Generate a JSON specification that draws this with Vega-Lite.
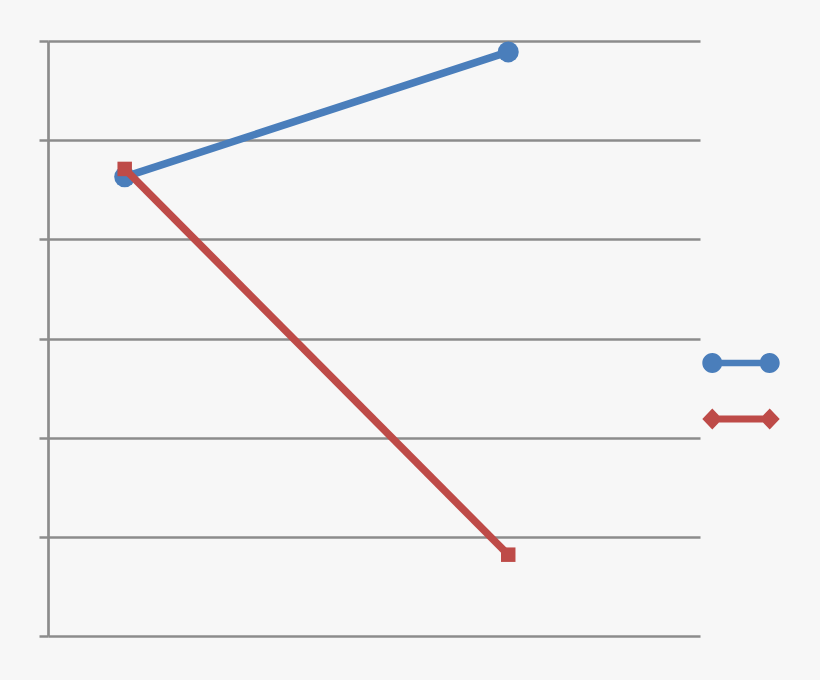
{
  "$schema": "https://vega.github.io/schema/vega-lite/v6.json",
  "autosize": "none",
  "width": 652,
  "height": 595,
  "padding": {"left": 48, "top": 41, "right": 120, "bottom": 44},
  "background": "#f7f7f7",
  "config": {"view": {"stroke": null}},
  "data": {
    "values": [
      {"series": "Series 1", "x": 1, "y": 4.63},
      {"series": "Series 1", "x": 6, "y": 5.89},
      {"series": "Series 2", "x": 1, "y": 4.71},
      {"series": "Series 2", "x": 6, "y": 0.82}
    ]
  },
  "encoding": {
    "x": {"field": "x", "type": "quantitative", "scale": {"domain": [0, 8.5]}, "axis": null},
    "y": {
      "field": "y",
      "type": "quantitative",
      "scale": {"domain": [0, 6], "nice": false},
      "axis": {
        "values": [0, 1, 2, 3, 4, 5, 6],
        "title": null,
        "labels": false,
        "domainColor": "#8c8c8c",
        "domainWidth": 2.7,
        "tickColor": "#8c8c8c",
        "tickWidth": 2.5,
        "tickSize": 9,
        "gridColor": "#8c8c8c",
        "gridWidth": 2.5,
        "gridOpacity": 1
      }
    },
    "color": {
      "field": "series",
      "type": "nominal",
      "scale": {"domain": ["Series 1", "Series 2"], "range": ["#4a7ebb", "#be4b48"]},
      "legend": {
        "orient": "none",
        "legendX": 683,
        "legendY": 312,
        "title": null,
        "labelExpr": "''",
        "labelFontSize": 1,
        "symbolSize": 400,
        "symbolStrokeWidth": 0,
        "rowPadding": 35,
        "encode": {
          "symbols": {
            "update": {
              "fill": {"scale": "color", "field": "value"},
              "fillOpacity": {"value": 1},
              "strokeWidth": {"value": 0},
              "shape": {"signal": "datum.value === 'Series 1' ? 'M-3.87,0 A1,1 0 1,1 -1.87,0 A1,1 0 1,1 -3.87,0 Z M1.87,0 A1,1 0 1,1 3.87,0 A1,1 0 1,1 1.87,0 Z M-2.87,-0.32 L2.87,-0.32 L2.87,0.32 L-2.87,0.32 Z' : 'M-3.87,0 L-2.87,-1.05 L-1.87,0 L-2.87,1.05 Z M1.87,0 L2.87,-1.05 L3.87,0 L2.87,1.05 Z M-2.87,-0.35 L2.87,-0.35 L2.87,0.35 L-2.87,0.35 Z'"}
            }
          }
        }
      }
    }
  },
  "layer": [
    {
      "transform": [{"filter": "datum.series === 'Series 1'"}],
      "mark": {"type": "line", "strokeWidth": 7.5}
    },
    {
      "transform": [{"filter": "datum.series === 'Series 1'"}],
      "mark": {"type": "point", "shape": "circle", "filled": true, "opacity": 1, "size": 441}
    },
    {
      "transform": [{"filter": "datum.series === 'Series 2'"}],
      "mark": {"type": "line", "strokeWidth": 7.5}
    },
    {
      "transform": [{"filter": "datum.series === 'Series 2'"}],
      "mark": {"type": "point", "shape": "square", "filled": true, "opacity": 1, "size": 210}
    }
  ]
}
